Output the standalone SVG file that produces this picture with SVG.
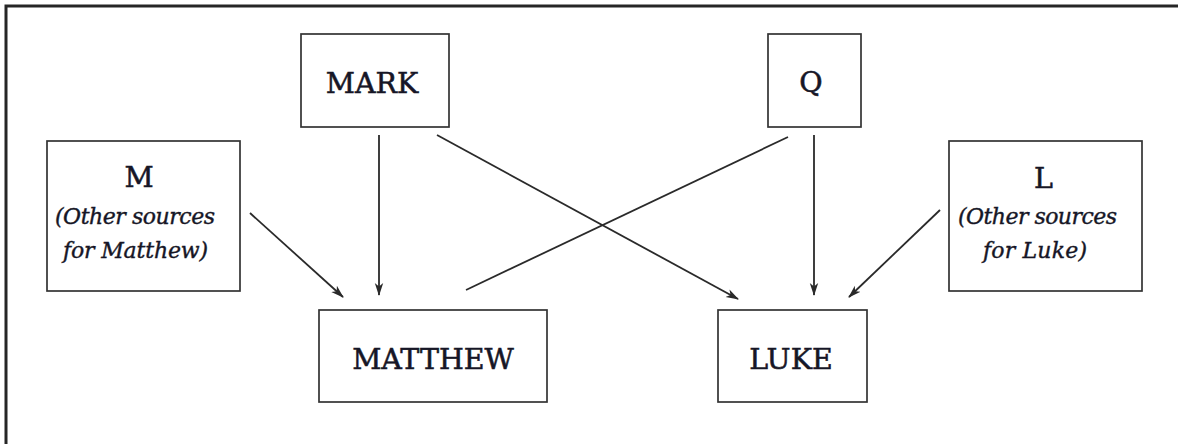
<svg xmlns="http://www.w3.org/2000/svg" width="1178" height="444" viewBox="0 0 1178 444">
  <style>
    .box { fill: #ffffff; stroke: #333333; stroke-width: 1.7; }
    .title { font-family: "DejaVu Serif", "Liberation Serif", serif; font-size: 28.5px; fill: #161626; stroke: #161626; stroke-width: 0.55; text-anchor: middle; }
    .note { font-family: "DejaVu Serif", "Liberation Serif", serif; font-style: italic; font-size: 22px; fill: #161626; stroke: #161626; stroke-width: 0.4; text-anchor: middle; }
    .edge { stroke: #2a2a2a; stroke-width: 1.8; fill: none; }
  </style>
  <defs>
    <marker id="arrow" viewBox="0 0 13 10" refX="12" refY="5" markerWidth="13" markerHeight="10" markerUnits="userSpaceOnUse" orient="auto">
      <path d="M0,0.8 L13,5 L0,9.2 L3.5,5 Z" fill="#2a2a2a"/>
    </marker>
  </defs>
  <rect width="1178" height="444" fill="#ffffff"/>
  <path d="M6,444 V6 H1178" fill="none" stroke="#262626" stroke-width="3"/>

  <g id="connectors">
    <line class="edge" x1="250" y1="213" x2="343" y2="297" marker-end="url(#arrow)"/>
    <line class="edge" x1="379" y1="135" x2="379" y2="295" marker-end="url(#arrow)"/>
    <line class="edge" x1="437" y1="135" x2="738" y2="299" marker-end="url(#arrow)"/>
    <line class="edge" x1="788" y1="137" x2="466" y2="290"/>
    <line class="edge" x1="814" y1="135" x2="814" y2="295" marker-end="url(#arrow)"/>
    <line class="edge" x1="940" y1="210" x2="849" y2="297" marker-end="url(#arrow)"/>
  </g>

  <g id="node-mark">
    <rect class="box" x="301" y="34" width="148" height="93"/>
    <text class="title" x="372" y="93">MARK</text>
  </g>
  <g id="node-q">
    <rect class="box" x="768" y="34" width="93" height="93"/>
    <text class="title" x="811" y="92">Q</text>
  </g>
  <g id="node-m">
    <rect class="box" x="47" y="141" width="193" height="150"/>
    <text class="title" x="139" y="187">M</text>
    <text class="note" x="135" y="224" textLength="160">(Other sources</text>
    <text class="note" x="135.5" y="258" textLength="145">for Matthew)</text>
  </g>
  <g id="node-l">
    <rect class="box" x="949" y="141" width="193" height="150"/>
    <text class="title" x="1043.5" y="188">L</text>
    <text class="note" x="1037.5" y="224" textLength="159">(Other sources</text>
    <text class="note" x="1035" y="258" textLength="104">for Luke)</text>
  </g>
  <g id="node-matthew">
    <rect class="box" x="319" y="310" width="228" height="92"/>
    <text class="title" x="433" y="369">MATTHEW</text>
  </g>
  <g id="node-luke">
    <rect class="box" x="718" y="310" width="149" height="92"/>
    <text class="title" x="791" y="369">LUKE</text>
  </g>
</svg>
